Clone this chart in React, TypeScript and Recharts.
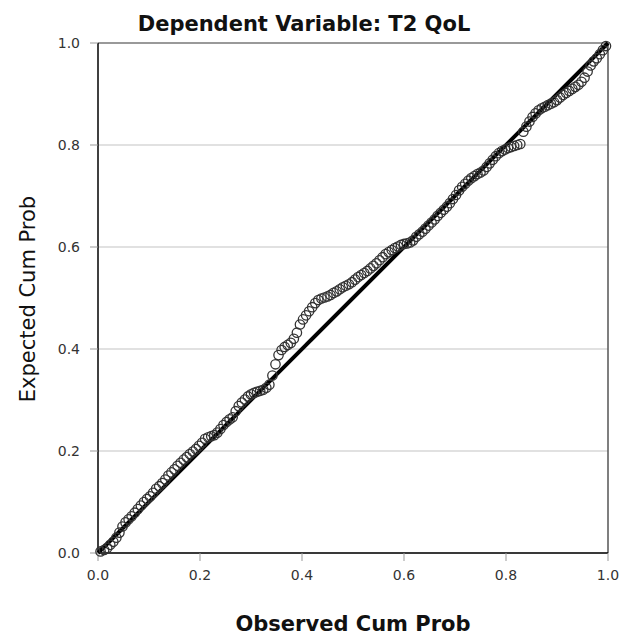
import React from 'react';
import {
  ScatterChart,
  Scatter,
  XAxis,
  YAxis,
  CartesianGrid,
  ReferenceLine,
  Label,
} from 'recharts';

const observed: number[] = [
  0.005, 0.012, 0.018, 0.024, 0.03, 0.036, 0.042, 0.048, 0.054, 0.06,
  0.066, 0.072, 0.078, 0.084, 0.09, 0.096, 0.102, 0.108, 0.114, 0.12,
  0.126, 0.132, 0.138, 0.144, 0.15, 0.156, 0.162, 0.168, 0.174, 0.18,
  0.186, 0.192, 0.198, 0.204, 0.21, 0.216, 0.222, 0.228, 0.234, 0.24,
  0.246, 0.252, 0.258, 0.264, 0.27, 0.276, 0.282, 0.288, 0.294, 0.3,
  0.306, 0.312, 0.318, 0.324, 0.33, 0.336, 0.342, 0.348, 0.354, 0.36,
  0.366, 0.372, 0.378, 0.384, 0.39, 0.396, 0.402, 0.408, 0.414, 0.42,
  0.426, 0.432, 0.438, 0.444, 0.45, 0.456, 0.462, 0.468, 0.474, 0.48,
  0.486, 0.492, 0.498, 0.504, 0.51, 0.516, 0.522, 0.528, 0.534, 0.54,
  0.546, 0.552, 0.558, 0.564, 0.57, 0.576, 0.582, 0.588, 0.594, 0.6,
  0.606, 0.612, 0.618, 0.624, 0.63, 0.636, 0.642, 0.648, 0.654, 0.66,
  0.666, 0.672, 0.678, 0.684, 0.69, 0.696, 0.702, 0.708, 0.714, 0.72,
  0.726, 0.732, 0.738, 0.744, 0.75, 0.756, 0.762, 0.768, 0.774, 0.78,
  0.786, 0.792, 0.798, 0.804, 0.81, 0.816, 0.822, 0.828, 0.834, 0.84,
  0.846, 0.852, 0.858, 0.864, 0.87, 0.876, 0.882, 0.888, 0.894, 0.9,
  0.906, 0.912, 0.918, 0.924, 0.93, 0.936, 0.942, 0.948, 0.954, 0.96,
  0.966, 0.972, 0.978, 0.984, 0.99, 0.996,
];

// Expected cumulative probability (y)
const expected: number[] = [
  0.003, 0.006, 0.01, 0.016, 0.022, 0.03, 0.04, 0.052, 0.06, 0.066,
  0.072, 0.079, 0.086, 0.093, 0.1, 0.106, 0.111, 0.118, 0.126, 0.131,
  0.137, 0.144, 0.152, 0.158, 0.164, 0.171, 0.177, 0.183, 0.188, 0.194,
  0.199, 0.204, 0.21, 0.216, 0.224, 0.227, 0.229, 0.231, 0.236, 0.243,
  0.251, 0.257, 0.262, 0.266, 0.278, 0.288, 0.295, 0.301, 0.307, 0.311,
  0.314, 0.316, 0.318, 0.32, 0.324, 0.33, 0.348, 0.37, 0.388, 0.398,
  0.404, 0.408, 0.412, 0.42, 0.432, 0.448, 0.458, 0.466, 0.474, 0.482,
  0.49, 0.496, 0.499, 0.501, 0.503, 0.506, 0.51, 0.513, 0.517, 0.521,
  0.524, 0.527, 0.531, 0.536, 0.541, 0.545, 0.549, 0.553, 0.558, 0.563,
  0.568, 0.574, 0.58, 0.586, 0.59, 0.594, 0.598, 0.601, 0.604, 0.606,
  0.607, 0.609, 0.613, 0.62, 0.625, 0.63, 0.636, 0.642, 0.648, 0.654,
  0.661, 0.667, 0.673, 0.679, 0.686, 0.694, 0.702, 0.711, 0.718, 0.724,
  0.73, 0.735, 0.739, 0.743, 0.746, 0.75, 0.757, 0.764, 0.771, 0.778,
  0.784, 0.788, 0.791, 0.794, 0.796, 0.798, 0.8, 0.802, 0.826, 0.836,
  0.846, 0.855, 0.862, 0.868, 0.872, 0.875, 0.878, 0.881, 0.884, 0.888,
  0.893, 0.898, 0.902, 0.906, 0.91, 0.914, 0.918, 0.924, 0.932, 0.944,
  0.956, 0.964, 0.97, 0.978, 0.986, 0.994,
];

const axisTicks = [0, 0.2, 0.4, 0.6, 0.8, 1.0];

const points = observed.map((x, i) => ({ x, y: expected[i] }));

const FONT = '"DejaVu Sans", "Open Sans", sans-serif';

const Ring = (props: any) => (
  <circle cx={props.cx} cy={props.cy} r={4.7} fill="none" stroke="#333" strokeWidth={1.3} />
);

export default function App() {
  // pinned to the page corner so the body margin can't push it into a scrollbar
  return (
    <div style={{ position: 'absolute', left: 0, top: 0, width: 624, height: 637, fontFamily: FONT }}>
      <div
        style={{
          position: 'absolute',
          left: 0,
          top: 12,
          width: 608,
          textAlign: 'center',
          fontSize: 21,
          fontWeight: 'bold',
          lineHeight: '24px',
          color: '#111',
        }}
      >
        Dependent Variable: T2 QoL
      </div>
      <ScatterChart width={624} height={637} margin={{ top: 43, right: 16, bottom: 0, left: 0 }}>
        <CartesianGrid vertical={false} stroke="#c4c4c4" strokeWidth={1.2} />
        <XAxis
          type="number"
          dataKey="x"
          domain={[0, 1]}
          ticks={axisTicks}
          tickFormatter={(v: number) => v.toFixed(1)}
          height={84}
          tickSize={8}
          tickMargin={9}
          axisLine={{ stroke: '#000', strokeWidth: 1.5 }}
          tickLine={{ stroke: '#999' }}
          tick={{ fill: '#333', fontSize: 14, fontFamily: FONT }}
        >
          <Label
            content={() => (
              <text
                x={353}
                y={631}
                textAnchor="middle"
                style={{ fontSize: 21, fontWeight: 'bold', fill: '#111', fontFamily: FONT }}
              >
                Observed Cum Prob
              </text>
            )}
          />
        </XAxis>
        <YAxis
          type="number"
          dataKey="y"
          domain={[0, 1]}
          ticks={axisTicks}
          tickFormatter={(v: number) => v.toFixed(1)}
          width={98}
          tickSize={8}
          tickMargin={10}
          axisLine={{ stroke: '#000', strokeWidth: 1.5 }}
          tickLine={{ stroke: '#999' }}
          tick={{ fill: '#333', fontSize: 14, fontFamily: FONT }}
        >
          <Label
            content={() => (
              <text
                x={28}
                y={299}
                transform="rotate(-90 28 299)"
                textAnchor="middle"
                dominantBaseline="central"
                style={{ fontSize: 21, fill: '#111', fontFamily: FONT }}
              >
                Expected Cum Prob
              </text>
            )}
          />
        </YAxis>
        <ReferenceLine x={1} stroke="#555" strokeWidth={1.5} />
        <ReferenceLine y={1} stroke="#999" strokeWidth={2} />
        <Scatter data={points} shape={<Ring />} isAnimationActive={false} />
        <ReferenceLine
          segment={[
            { x: 0, y: 0 },
            { x: 1, y: 1 },
          ]}
          stroke="#000"
          strokeWidth={4}
        />
      </ScatterChart>
    </div>
  );
}
